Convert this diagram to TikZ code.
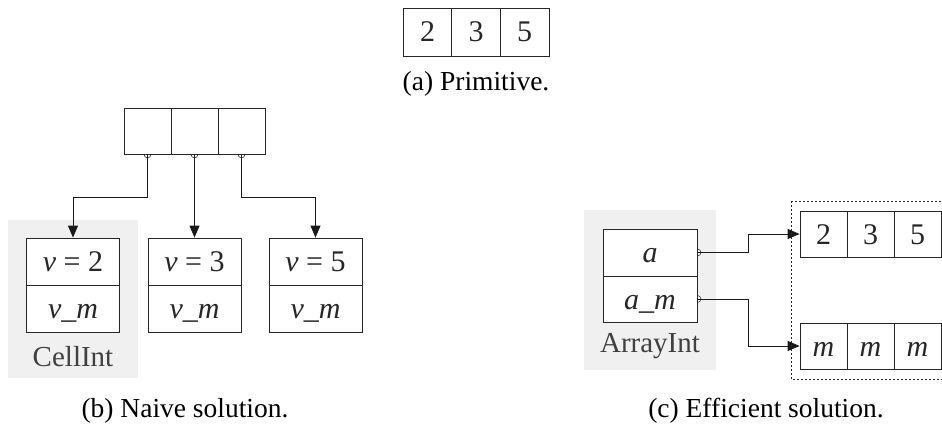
\documentclass[tikz,border=0pt]{standalone}
\usepackage{fontspec}
\setmainfont{Liberation Serif}
\usetikzlibrary{arrows.meta}
\pgfdeclarelayer{bg}
\pgfdeclarelayer{conn}
\pgfsetlayers{bg,conn,main}
\begin{document}
\begin{tikzpicture}[x=1pt,y=-1pt,
  cell/.style={draw=black!85, line width=0.8pt, fill=white, minimum width=47pt, minimum height=46pt,
    inner sep=0pt, font=\fontsize{30}{32}\selectfont, text=black!85, text height=20pt, text depth=0pt},
  field/.style={cell, minimum width=93pt, minimum height=47pt},
  lbl/.style={font=\fontsize{29}{31}\selectfont, text=black!75, inner sep=0pt},
  captext/.style={font=\fontsize{27.5}{30}\selectfont, inner sep=0pt},
  conn/.style={draw=black!90, line width=0.8pt, -{Triangle[length=12pt,width=10pt]}},
  knob/.style={draw=black!80, line width=0.6pt, fill=white},
  greybg/.style={fill=black!6}
]
\useasboundingbox (0,0) rectangle (942,428);

% (a) primitive
\node[cell, minimum width=49pt, minimum height=48pt] (p1) at (427.5,32) {2};
\node[cell, minimum width=49pt, minimum height=48pt] (p2) at (476,32) {3};
\node[cell, minimum width=49pt, minimum height=48pt] (p3) at (524.5,32) {5};
\node[captext] (capa) at (476,84) {(a) Primitive.};

% (b) naive
\node[cell] (r1) at (147.5,131) {};
\node[cell] (r2) at (194.5,131) {};
\node[cell] (r3) at (241.5,131) {};

\node[field] (v1) at (73,261.5) {\textit{v} = 2};
\node[field] (m1) at (73,308.5) {\textit{v\_m}};
\node[field] (v2) at (194.5,261.5) {\textit{v} = 3};
\node[field] (m2) at (194.5,308.5) {\textit{v\_m}};
\node[field] (v3) at (315.5,261.5) {\textit{v} = 5};
\node[field] (m3) at (315.5,308.5) {\textit{v\_m}};
\node[lbl] (cellint) at (73,357) {CellInt};
\node[captext] (capb) at (185,411) {(b) Naive solution.};

\begin{pgfonlayer}{bg}
  \fill[greybg] (8,220) rectangle (138,378);
  \fill[greybg] (584,210) rectangle (716,370);
\end{pgfonlayer}

\begin{pgfonlayer}{conn}
  \draw[knob] (r1.south) circle (3.5pt);
  \draw[knob] (r2.south) circle (3.5pt);
  \draw[knob] (r3.south) circle (3.5pt);
  \draw[conn] (r1.south) -- ++(0,43) -| (v1.north);
  \draw[conn] (r2.south) -- (v2.north);
  \draw[conn] (r3.south) -- ++(0,43) -| (v3.north);
\end{pgfonlayer}

% (c) efficient
\node[field, minimum width=94pt] (fa) at (650,252.5) {\textit{a}};
\node[field, minimum width=94pt, minimum height=46pt] (fam) at (650,299) {\textit{a\_m}};
\node[lbl] (arrayint) at (650,346) {ArrayInt};

\node[cell] (t1) at (823.5,234) {2};
\node[cell] (t2) at (870.5,234) {3};
\node[cell] (t3) at (917.5,234) {5};
\node[cell] (b1) at (823.5,346) {\textit{m}};
\node[cell] (b2) at (870.5,346) {\textit{m}};
\node[cell] (b3) at (917.5,346) {\textit{m}};

\draw[black!85, line width=0.8pt, dash pattern=on 2pt off 2pt] (791,201) rectangle (948,379);

\begin{pgfonlayer}{conn}
  \draw[knob] (fa.east) circle (3.5pt);
  \draw[knob] (fam.east) circle (3.5pt);
  \draw[conn] (fa.east) -- ++(51,0) |- (t1.west);
  \draw[conn] (fam.east) -- ++(51,0) |- (b1.west);
\end{pgfonlayer}

\node[captext] (capc) at (766,411) {(c) Efficient solution.};
\end{tikzpicture}
\end{document}
